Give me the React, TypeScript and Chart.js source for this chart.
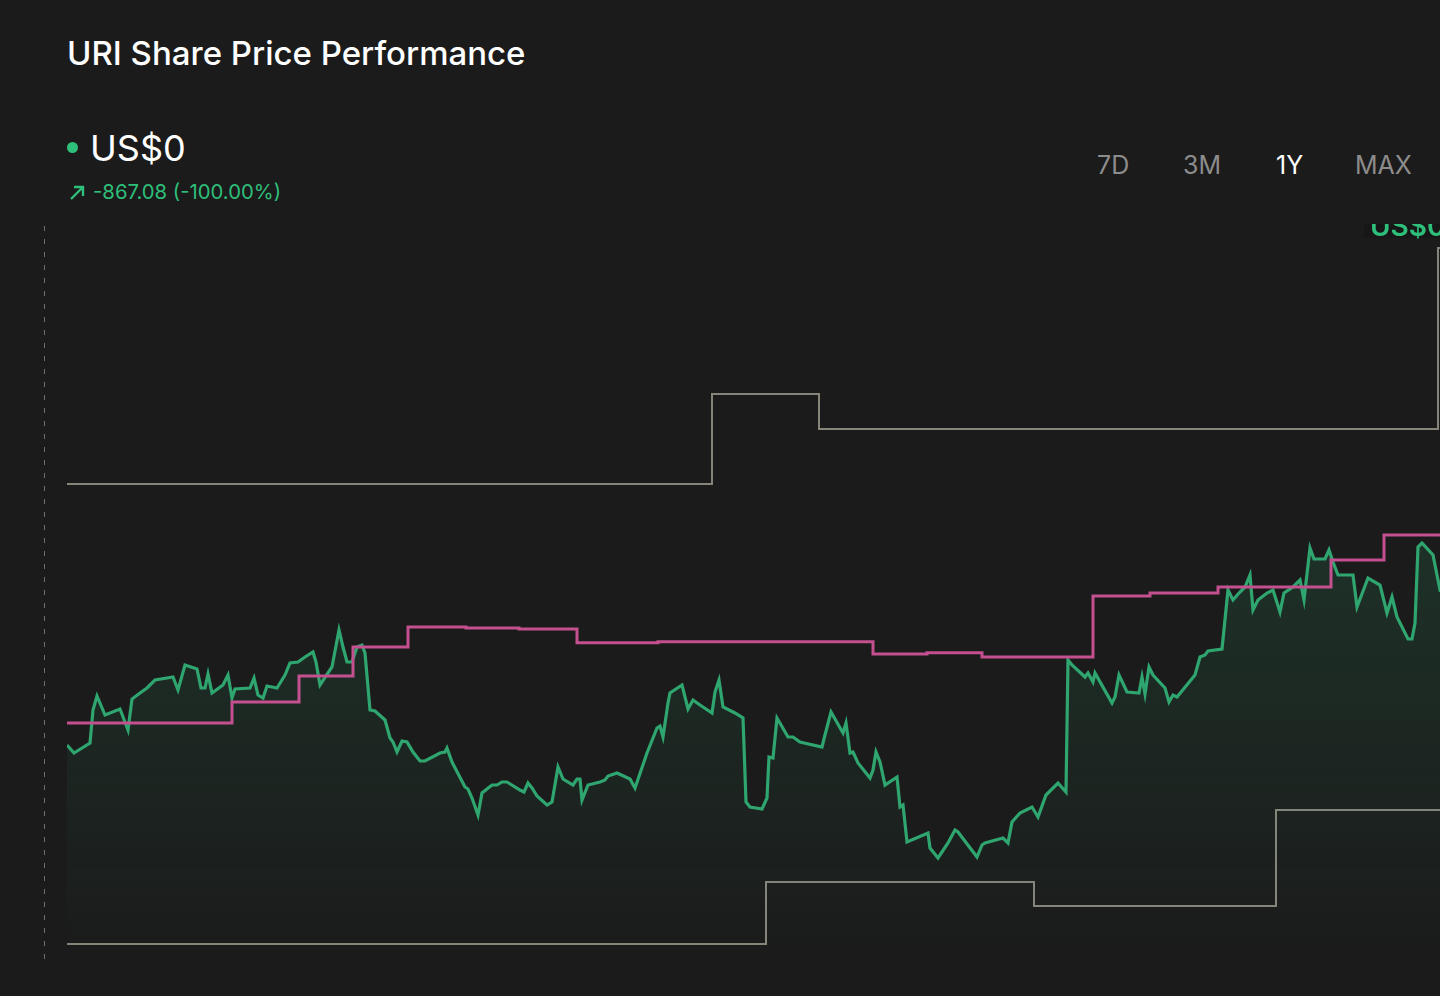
import React, { useEffect, useRef } from "react";
import { Chart, registerables } from "chart.js";

Chart.register(...registerables);

// ---- DATA ----
// Share price (day offset within the 1Y window, US$)
const priceDays = [
  0, 1.75, 5.75, 6.5, 7.5, 9.5, 13.25, 15.25, 16.25, 18.25, 20, 22, 26.5, 27.75, 29.5, 32.5, 33.5, 34.5, 35.25, 36.25,
  39, 40.25, 41.25, 42, 45.75, 46.75, 47.75, 49, 50, 52.5, 54.5, 55.75, 57.75, 59.5, 61.5, 62.25, 63.25, 66.25, 68, 69,
  70, 71.25, 72.5, 73.75, 74.5, 75.75, 77, 79.5, 80.75, 81.5, 82.5, 83.75, 85, 86.5, 88.25, 89.5, 93.25, 94.5, 95, 96.25,
  99.5, 100.25, 101.25, 102.75, 103.75, 106.25, 107.5, 108.75, 110, 113.25, 114.25, 115.25, 116.25, 117.5, 120, 121.25,
  122.75, 124, 126.5, 127.5, 128.25, 128.75, 130.25, 133.25, 134.5, 135.25, 137.5, 140.75, 142, 145, 147.5, 148.25, 149,
  150.25, 150.75, 153.75, 155.25, 156.5, 158.25, 161.25, 162, 163, 164, 167, 169, 169.75, 170.75, 173.75, 175, 175.5,
  176.5, 177.5, 180.25, 181.5, 183.25, 188.75, 189.5, 191, 194, 194.75, 195.75, 196.5, 197.75, 200.75, 201.5, 202.25,
  203.25, 204.5, 207.5, 208.25, 209, 210, 215.25, 215.75, 217.75, 220.25, 222, 222.75, 227.5, 228.75, 229.5, 234,
  235.25, 236.25, 238.25, 241.25, 242.75, 244.75, 247.75, 249.75, 250.25, 251.25, 254.5, 255.25, 256.5, 257, 261.25,
  262, 263, 265, 268, 268.75, 269.5, 270.5, 271.5, 274.5, 275.5, 276.5, 277.5, 282, 283.25, 284.5, 285.25, 288.75,
  290.25, 291.5, 293, 294.5, 295.75, 296.5, 297.75, 300, 301.5, 303.25, 304.25, 306.5, 308.25, 309.25, 310.75, 311.75,
  314.5, 315.5, 316.5, 317.75, 321.5, 322.5, 325.25, 328.25, 330, 331.25, 332.5, 335.25, 336.25, 337, 337.75, 338.75,
  341.5, 343.25, 345, 346.5,
];
const priceValues = [
  630, 618, 633, 682.5, 703.5, 675, 684, 652.5, 699, 708, 715.5, 727.5, 732, 712.5, 750, 744, 715.5, 715.5, 736.5, 708,
  720, 735, 700.5, 714, 715.5, 730.5, 705, 700.5, 718.5, 715.5, 735, 753, 754.5, 762, 769.5, 754.5, 720, 747, 802.5, 777,
  754.5, 754.5, 777, 780, 768, 682.5, 681, 667.5, 640.5, 634.5, 619.5, 636, 634.5, 619.5, 606, 606, 618, 619.5, 625.5, 604.5,
  567, 564, 550.5, 525, 558, 570, 570, 574.5, 574.5, 562.5, 559.5, 573, 565.5, 553.5, 540, 544.5,
  597, 579, 570, 579, 579, 547.5, 570, 574.5, 577.5, 583.5, 588, 579, 565.5, 618, 655.5, 658.5, 642,
  693, 708, 720, 684, 697.5, 690, 678, 709.5, 727.5, 687, 678, 670.5, 544.5, 537, 534, 550.5, 612,
  610.5, 670.5, 642, 642, 634.5, 627, 645, 679.5, 648, 663, 618, 619.5, 603, 580.5, 592.5, 619.5,
  604.5, 570, 582, 537, 540, 484.5, 498, 475.5, 460.5, 483, 502.5, 499.5, 462, 480, 483, 490.5,
  483, 514.5, 528, 537, 522, 555, 573, 559.5, 757.5, 750, 732, 738, 724.5, 738, 693,
  702, 735, 709.5, 708, 732, 706.5, 747, 735, 715.5, 694.5, 705, 702, 735, 762, 765, 771, 774,
  862.5, 847.5, 858, 867, 885, 832.5, 847.5, 858, 862.5, 829.5, 858, 867, 877.5, 847.5, 925.5, 909,
  909, 922.5, 904.5, 885, 885, 837, 880.5, 870, 828, 852, 822, 789, 789, 813, 927, 933,
  915, 862.5, 867.08, 0,
];

// Analyst consensus price target (step changes)
const targetDays = [0, 41.25, 58, 71.5, 85.25, 99.75, 113, 127.5, 147.75, 201.5, 215, 228.75, 256.5, 270.75, 287.75, 316, 329.25, 346.5];
const targetValues = [663, 694.5, 733.5, 777, 807, 805.5, 804, 783.5, 785, 766.5, 768.5, 762, 853.5, 858, 867, 907.5, 945, 945];

// Highest analyst target
const highDays = [0, 161.25, 188, 342.75, 346.5];
const highValues = [1021.5, 1156.5, 1104, 1375.5, 1375.5];

// Lowest analyst target
const lowDays = [0, 174.75, 241.75, 302.25, 346.5];
const lowValues = [331.5, 424.5, 388.5, 532.5, 532.5];

const periods = ["7D", "3M", "1Y", "MAX"];
const activePeriod = "1Y";
const title = "URI Share Price Performance";
const currentPriceLabel = "US$0";
const changeLabel = "-867.08 (-100.00%)";

const BG = "#1b1b1b";
const GREEN = "#2fa56f";
const GREEN_TEXT = "#2ebf7a";
const PINK = "#c4508f";
const GREY = "#87847a";
const FONT = "Inter, 'Noto Sans', sans-serif";

const toPoints = (xs: number[], ys: number[]) => xs.map((x, i) => ({ x, y: ys[i] }));

export default function App() {
  const canvasRef = useRef<HTMLCanvasElement | null>(null);

  useEffect(() => {
    const canvas = canvasRef.current;
    if (!canvas) return;

    const dashedLine = {
      id: "dashedLine",
      beforeDatasetsDraw(chart: any) {
        const { ctx, chartArea } = chart;
        ctx.save();
        ctx.strokeStyle = "#707070";
        ctx.lineWidth = 1;
        ctx.setLineDash([5, 8]);
        ctx.beginPath();
        ctx.moveTo(44.5, chartArea.top);
        ctx.lineTo(44.5, chartArea.bottom + 2);
        ctx.stroke();
        ctx.restore();
      },
    };

    const lastLabel = {
      id: "lastLabel",
      afterDraw(chart: any) {
        const { ctx } = chart;
        const xs = chart.scales.x;
        const lastX = xs.getPixelForValue(priceDays[priceDays.length - 1]);
        const left = lastX - 83;
        ctx.save();
        ctx.fillStyle = "rgba(10,10,10,0.25)";
        ctx.fillRect(left - 6, 0, 200, 14);
        ctx.fillStyle = GREEN_TEXT;
        ctx.font = `600 28px ${FONT}`;
        ctx.textAlign = "left";
        ctx.textBaseline = "alphabetic";
        ctx.fillText(currentPriceLabel, left, 12);
        ctx.restore();
      },
    };

    const chart = new Chart(canvas, {
      type: "line",
      data: {
        datasets: [
          {
            label: "Price target",
            data: toPoints(targetDays, targetValues),
            borderColor: PINK,
            borderWidth: 3,
            stepped: true,
            fill: false,
            order: 0,
          },
          {
            label: "Share price",
            data: toPoints(priceDays, priceValues),
            borderColor: GREEN,
            borderWidth: 3.2,
            borderJoinStyle: "miter",
            fill: "start",
            backgroundColor: (c: any) => {
              const { chart } = c;
              const area = chart.chartArea;
              if (!area) return "rgba(47,165,111,0.1)";
              const g = chart.ctx.createLinearGradient(0, area.top + 300, 0, area.bottom);
              g.addColorStop(0, "rgba(47,165,111,0.17)");
              g.addColorStop(1, "rgba(47,165,111,0.0)");
              return g;
            },
            order: 1,
          },
          {
            label: "High target",
            data: toPoints(highDays, highValues),
            borderColor: GREY,
            borderWidth: 2,
            stepped: true,
            fill: false,
            order: 2,
          },
          {
            label: "Low target",
            data: toPoints(lowDays, lowValues),
            borderColor: GREY,
            borderWidth: 2,
            stepped: true,
            fill: false,
            order: 2,
          },
        ],
      },
      options: {
        animation: false,
        responsive: false,
        maintainAspectRatio: false,
        devicePixelRatio: 1,
        layout: { padding: { left: 67, top: 2, right: 0, bottom: 10 } },
        elements: { point: { radius: 0, hoverRadius: 0 }, line: { tension: 0 } },
        plugins: { legend: { display: false }, tooltip: { enabled: false } },
        events: [],
        scales: {
          x: { type: "linear", min: 0, max: 365, display: false },
          y: { min: 300, max: 1408.5, display: false },
        },
      },
      plugins: [dashedLine, lastLabel],
    });

    return () => chart.destroy();
  }, []);

  return (
    <div
      style={{
        position: "fixed",
        left: 0,
        top: 0,
        width: 1440,
        height: 996,
        background: BG,
        overflow: "hidden",
        fontFamily: FONT,
      }}
    >
      <div
        style={{
          position: "absolute",
          left: 67,
          top: 37,
          fontSize: 33,
          lineHeight: 1,
          fontWeight: 500,
          color: "#ffffff",
          whiteSpace: "nowrap",
        }}
      >
        {title}
      </div>

      <div
        style={{
          position: "absolute",
          left: 67,
          top: 142,
          width: 11,
          height: 11,
          borderRadius: "50%",
          background: GREEN_TEXT,
        }}
      />
      <div
        style={{
          position: "absolute",
          left: 90,
          top: 130,
          fontSize: 36,
          lineHeight: 1,
          fontWeight: 400,
          color: "#ffffff",
          whiteSpace: "nowrap",
        }}
      >
        {currentPriceLabel}
      </div>

      <svg
        style={{ position: "absolute", left: 69, top: 184 }}
        width={17}
        height={17}
        viewBox="0 0 17 17"
      >
        <path d="M2 15 L14 3 M5 3 L14 3 L14 12" stroke={GREEN_TEXT} strokeWidth={2.4} fill="none" />
      </svg>
      <div
        style={{
          position: "absolute",
          left: 93,
          top: 182,
          fontSize: 20.3,
          lineHeight: 1,
          color: GREEN_TEXT,
          whiteSpace: "nowrap",
        }}
      >
        {changeLabel}
      </div>

      {periods.map((p, i) => (
        <div
          key={p}
          style={{
            position: "absolute",
            left: [1097, 1183, 1276, 1355][i],
            top: 153,
            fontSize: 25,
            lineHeight: 1,
            color: p === activePeriod ? "#ffffff" : "#8c8c8c",
            whiteSpace: "nowrap",
          }}
        >
          {p}
        </div>
      ))}

      <div style={{ position: "absolute", left: 0, top: 224, width: 1527, height: 751 }}>
        <canvas ref={canvasRef} width={1527} height={751} style={{ display: "block" }} />
      </div>
    </div>
  );
}
